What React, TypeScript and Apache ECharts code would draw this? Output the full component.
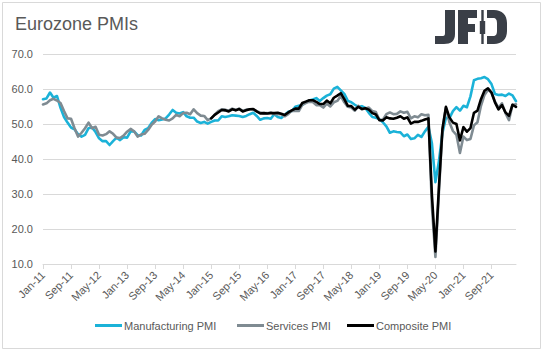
import React, { useEffect, useRef } from "react";
import * as echarts from "echarts";

// ---------- data ----------
const MONTHS = ["Jan", "Feb", "Mar", "Apr", "May", "Jun", "Jul", "Aug", "Sep", "Oct", "Nov", "Dec"];
const START_YEAR = 11; // Jan-11
const N_POINTS = 136; // Jan-11 .. Apr-22
const categories: string[] = Array.from({ length: N_POINTS }, (_, i) => `${MONTHS[i % 12]}-${START_YEAR + Math.floor(i / 12)}`);

const manufacturing: number[] = [
  57.1,
  57.3, 59.0, 57.5, 58.0, 54.6, 52.0, 50.4, 49.0, 48.5, 47.1, 46.4, 46.9,
  48.8, 49.0, 47.7, 45.9, 45.1, 45.1, 44.0, 45.1, 46.1, 45.4, 46.2, 46.1,
  47.9, 47.9, 46.8, 46.7, 48.3, 48.8, 50.3, 51.4, 51.1, 51.3, 51.6, 52.7,
  54.0, 53.2, 53.0, 53.4, 52.2, 51.8, 51.8, 50.7, 50.3, 50.6, 50.1, 50.6,
  51.0, 51.0, 52.2, 52.0, 52.2, 52.5, 52.4, 52.3, 52.0, 52.3, 52.8, 53.2,
  52.3, 51.2, 51.6, 51.7, 51.5, 52.8, 52.0, 51.7, 52.6, 53.5, 53.7, 54.9,
  55.2, 55.4, 56.2, 56.7, 57.0, 57.4, 56.6, 57.4, 58.1, 58.5, 60.1, 60.6,
  59.6, 58.6, 56.6, 56.2, 55.5, 54.9, 55.1, 54.6, 53.2, 52.0, 51.8, 51.4,
  50.5, 49.3, 47.5, 47.9, 47.7, 47.6, 46.5, 47.0, 45.7, 45.9, 46.9, 46.3,
  47.9, 49.2, 44.5, 33.4, 39.4, 47.4, 51.8, 51.7, 53.7, 54.8, 53.8, 55.2,
  54.8, 57.9, 62.5, 62.9, 63.1, 63.4, 62.8, 61.4, 58.6, 58.3, 58.4, 58.0,
  58.7, 58.2, 56.5,
];

const services: number[] = [
  55.6,
  55.9, 56.8, 57.2, 56.7, 56.0, 53.7, 51.6, 51.5, 48.8, 46.4, 47.5, 48.8,
  50.4, 48.8, 49.2, 46.9, 46.7, 47.1, 47.9, 47.2, 46.1, 46.0, 46.7, 47.8,
  48.6, 47.9, 46.4, 47.0, 47.2, 48.3, 49.8, 50.7, 52.2, 51.6, 51.2, 51.0,
  51.6, 52.6, 52.2, 53.1, 53.2, 52.8, 54.2, 53.1, 52.4, 52.3, 51.1, 51.6,
  52.7, 53.7, 54.2, 54.1, 53.8, 54.4, 54.0, 54.4, 53.7, 54.1, 54.2, 54.2,
  53.6, 53.3, 53.1, 53.1, 53.3, 52.8, 52.9, 52.8, 52.2, 52.8, 53.8, 53.7,
  53.7, 55.5, 56.0, 56.4, 56.3, 55.4, 55.4, 54.7, 55.8, 55.0, 56.2, 56.6,
  58.0, 56.2, 54.9, 54.7, 53.8, 55.2, 54.2, 54.4, 54.7, 53.7, 53.4, 51.2,
  51.2, 52.8, 53.3, 52.8, 52.9, 53.6, 53.2, 53.5, 51.6, 52.2, 51.9, 52.8,
  52.5, 52.6, 26.4, 12.0, 30.5, 48.3, 54.7, 50.5, 48.0, 46.9, 41.7, 46.4,
  45.4, 45.7, 49.6, 50.5, 55.2, 58.3, 59.8, 59.0, 56.4, 54.6, 55.9, 53.1,
  51.1, 55.5, 55.6,
];

const COMPOSITE_START = 48; // first point at Jan-15
const composite: number[] = [
  51.6,
  52.6, 53.3, 54.0, 53.9, 53.6, 54.2, 53.9, 54.3, 53.6, 53.9, 54.2, 54.3,
  53.6, 53.0, 53.1, 53.0, 53.1, 53.1, 53.2, 52.9, 52.6, 53.3, 53.9, 54.4,
  54.4, 56.0, 56.4, 56.8, 56.8, 56.3, 55.7, 55.7, 56.7, 55.9, 57.5, 58.1,
  58.8, 57.1, 55.2, 55.1, 54.1, 54.9, 54.3, 54.5, 54.1, 53.1, 52.7, 51.1,
  51.0, 51.9, 51.6, 51.5, 51.8, 52.2, 51.5, 51.9, 50.1, 50.6, 50.6, 50.9,
  51.3, 51.6, 29.7, 13.6, 31.9, 48.5, 54.9, 51.9, 50.4, 50.0, 45.3, 49.1,
  47.8, 48.8, 53.2, 53.8, 57.1, 59.5, 60.2, 59.0, 56.2, 54.2, 55.4, 53.3,
  52.3, 55.5, 54.9,
];

const SERIES_NAMES = ["Manufacturing PMI", "Services PMI", "Composite PMI"];
const COLORS = ["#1bb2d8", "#7f8b92", "#000000"];

// ---------- logo shape ----------
const LOGO_D =
  "M10 0 H20 V24 C20 31 16 34 9 34 H0 V26 H8 C9.5 26 10 25 10 23 Z " +
  "M23 0 H42 V8 H33 V14 H40 V22 H33 V34 H23 Z " +
  "M46.3 0 H48.7 V34 H46.3 Z " +
  "M44.8 11 H50.2 V24 H44.8 Z " +
  "M52 0 H59 C67 0 72 5 72 13 V21 C72 29 67 34 59 34 H52 V26 H58 C61 26 62 24 62 21 V13 C62 10 61 8 58 8 H52 Z";
echarts.graphic.registerShape("jfdLogo", echarts.graphic.extendPath(LOGO_D, {}) as any);

const FONT = "'Liberation Sans', Arial, sans-serif";
const TXT = "#595959";

export default function App() {
  const ref = useRef<HTMLDivElement>(null);
  useEffect(() => {
    document.body.style.margin = "0";
    if (!ref.current) return;
    const chart = echarts.init(ref.current, undefined, { renderer: "svg" });
    const compositeData: (number | null)[] = [
      ...Array.from({ length: COMPOSITE_START }, () => null),
      ...composite,
    ];
    const datas = [manufacturing, services, compositeData];
    const legendLeft = [95, 237, 347];
    chart.setOption({
      animation: false,
      textStyle: { fontFamily: FONT },
      grid: { left: 43, right: 27, top: 54, bottom: 87, containLabel: false },
      legend: SERIES_NAMES.map((n, i) => ({
        data: [n],
        left: legendLeft[i],
        top: 320,
        icon: "rect",
        itemWidth: 27,
        itemHeight: 3,
        padding: 0,
        textStyle: { color: TXT, fontSize: 11, fontFamily: FONT, padding: [0, 0, 0, -3] },
        selectedMode: false,
      })),
      xAxis: {
        type: "category",
        data: categories,
        boundaryGap: false,
        axisLine: { lineStyle: { color: "#d9d9d9", width: 1 } },
        axisTick: { show: true, interval: 7, length: 5, lineStyle: { color: "#d9d9d9" } },
        axisLabel: { interval: 7, rotate: 45, color: TXT, fontSize: 11, margin: 9, fontFamily: FONT },
        splitLine: { show: false },
      },
      yAxis: {
        type: "value",
        min: 10,
        max: 70,
        interval: 10,
        axisLine: { show: false },
        axisTick: { show: false },
        axisLabel: { color: TXT, fontSize: 11, margin: 10, fontFamily: FONT, formatter: (v: number) => v.toFixed(1) },
        splitLine: { lineStyle: { color: "#d9d9d9", width: 1 } },
      },
      series: SERIES_NAMES.map((n, i) => ({
        name: n,
        type: "line",
        data: datas[i],
        showSymbol: false,
        symbol: "none",
        color: COLORS[i],
        lineStyle: { color: COLORS[i], width: 2.6, join: "round", cap: "round" },
        connectNulls: false,
        z: 2 + i,
      })),
      graphic: [
        {
          type: "rect",
          shape: { x: 2.5, y: 2.5, width: 538, height: 346 },
          style: { fill: "none", stroke: "#d9d9d9", lineWidth: 1 },
          silent: true,
        },
        {
          type: "text",
          x: 15,
          y: 15,
          style: { text: "Eurozone PMIs", fill: TXT, font: `18px ${FONT}`, verticalAlign: "top" },
        },
        {
          type: "jfdLogo",
          x: 435,
          y: 10,
          style: { fill: "#3a3f47" },
        },
      ],
    });
    return () => chart.dispose();
  }, []);
  return <div ref={ref} style={{ position: "absolute", left: 0, top: 0, width: 543, height: 351 }} />;
}
